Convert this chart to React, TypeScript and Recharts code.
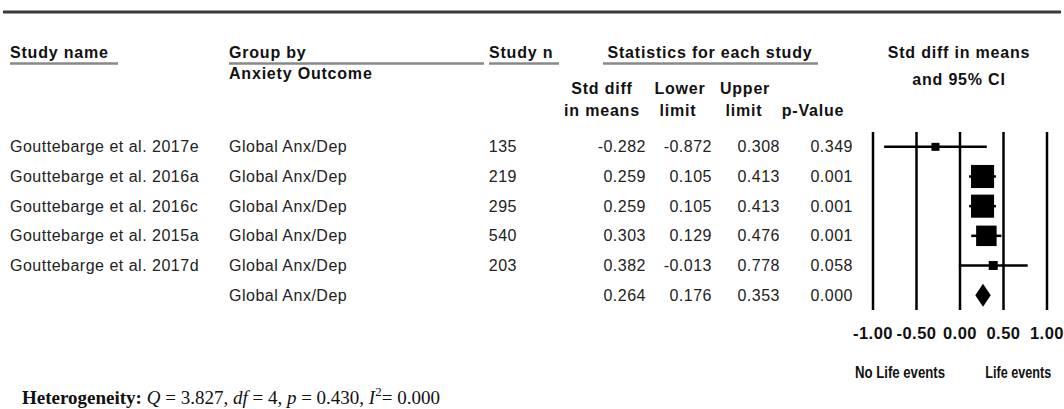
import React from 'react';
import { ScatterChart, Scatter, XAxis, YAxis, ErrorBar, ReferenceLine, ReferenceArea, Customized } from 'recharts';

// table rows (last row = summary)
const studyNames = [
  'Gouttebarge et al. 2017e',
  'Gouttebarge et al. 2016a',
  'Gouttebarge et al. 2016c',
  'Gouttebarge et al. 2015a',
  'Gouttebarge et al. 2017d',
  '',
];
const groups = ['Global Anx/Dep', 'Global Anx/Dep', 'Global Anx/Dep', 'Global Anx/Dep', 'Global Anx/Dep', 'Global Anx/Dep'];
const studyN = ['135', '219', '295', '540', '203', ''];
const effects = [-0.282, 0.259, 0.259, 0.303, 0.382, 0.264];
const lowers = [-0.872, 0.105, 0.105, 0.129, -0.013, 0.176];
const uppers = [0.308, 0.413, 0.413, 0.476, 0.778, 0.353];
const pValues = ['0.349', '0.001', '0.001', '0.001', '0.058', '0.000'];
// relative weights (%) of the individual studies
const weights = [2.3, 33.3, 33.3, 26.2, 5.0];
const xTicks = [-1, -0.5, 0, 0.5, 1];
const rowTicks = [1, 2, 3, 4, 5, 6];

const studyData = weights.map((w, i) => ({
  row: i + 1,
  effect: effects[i],
  errorX: [effects[i] - lowers[i], uppers[i] - effects[i]],
  weight: w,
}));
const summary = 5;

const SANS = '"Liberation Sans", Arial, sans-serif';
const SERIF = '"Liberation Serif", "Times New Roman", serif';

const RowTick = (props: any) => {
  const { y, payload } = props;
  const i = payload.value - 1;
  const t = { fontFamily: SANS, fontSize: 16, letterSpacing: 0.5, fill: '#222', dominantBaseline: 'central' } as any;
  return (
    <g>
      <text x={10} y={y} {...t}>{studyNames[i]}</text>
      <text x={229} y={y} {...t}>{groups[i]}</text>
      <text x={517} y={y} textAnchor="end" {...t}>{studyN[i]}</text>
      <text x={646} y={y} textAnchor="end" {...t}>{effects[i].toFixed(3)}</text>
      <text x={712} y={y} textAnchor="end" {...t}>{lowers[i].toFixed(3)}</text>
      <text x={780} y={y} textAnchor="end" {...t}>{uppers[i].toFixed(3)}</text>
      <text x={853} y={y} textAnchor="end" {...t}>{pValues[i]}</text>
    </g>
  );
};

const XTick = (props: any) => {
  const { x, payload } = props;
  return (
    <text x={x} y={333} textAnchor="middle" dominantBaseline="central"
      fontFamily={SANS} fontSize={16.5} fontWeight="bold" letterSpacing={0.5} fill="#111">
      {payload.value.toFixed(2)}
    </text>
  );
};

const SideLabels = (props: any) => {
  const { viewBox } = props;
  const y = viewBox.y + 62;
  const st = { fontFamily: '"Liberation Sans Narrow", "Liberation Sans", sans-serif', fontSize: 16, fontWeight: 'bold', fill: '#111', dominantBaseline: 'central', lengthAdjust: 'spacingAndGlyphs' } as any;
  return (
    <g>
      <text x={viewBox.x + viewBox.width * 0.155} y={y} textAnchor="middle" textLength={90} {...st}>No Life events</text>
      <text x={viewBox.x + viewBox.width * 0.835} y={y} textAnchor="middle" textLength={66} {...st}>Life events</text>
    </g>
  );
};

const WeightSquare = (props: any) => {
  const { cx, cy, payload } = props;
  const s = Math.max(8, 4 * Math.sqrt(payload.weight));
  return <rect x={cx - s / 2} y={cy - s / 2} width={s} height={s} fill="#000" />;
};

const Diamond = (props: any) => {
  const { x, y, width, height } = props;
  const cy = y + height / 2;
  const cx = x + width / 2;
  const h = 11.5;
  return <polygon points={`${x},${cy} ${cx},${cy - h} ${x + width},${cy} ${cx},${cy + h}`} fill="#000" />;
};

const Headers = () => {
  const b = { fontFamily: SANS, fontSize: 16, fontWeight: 'bold', letterSpacing: 0.8, fill: '#111', dominantBaseline: 'central' } as any;
  const ul = { stroke: '#888', strokeWidth: 2.5 };
  return (
    <g>
      <line x1={3} x2={1061} y1={12} y2={12} stroke="#3a3a3a" strokeWidth={3} />
      <text x={10} y={52} {...b}>Study name</text>
      <line x1={10} x2={118} y1={63.5} y2={63.5} {...ul} />
      <text x={229} y={52} {...b}>Group by</text>
      <line x1={229} x2={484} y1={63.5} y2={63.5} {...ul} />
      <text x={229} y={73} {...b}>Anxiety Outcome</text>
      <text x={489} y={52} {...b}>Study n</text>
      <line x1={489} x2={559} y1={63.5} y2={63.5} {...ul} />
      <text x={710} y={52} textAnchor="middle" {...b}>Statistics for each study</text>
      <line x1={603} x2={818} y1={63.5} y2={63.5} {...ul} />
      <text x={959} y={52} textAnchor="middle" {...b}>Std diff in means</text>
      <text x={959} y={79} textAnchor="middle" {...b}>and 95% CI</text>
      <text x={602} y={88} textAnchor="middle" {...b}>Std diff</text>
      <text x={602} y={110} textAnchor="middle" {...b}>in means</text>
      <text x={680} y={88} textAnchor="middle" {...b}>Lower</text>
      <text x={678} y={110} textAnchor="middle" {...b}>limit</text>
      <text x={745} y={88} textAnchor="middle" {...b}>Upper</text>
      <text x={744} y={110} textAnchor="middle" {...b}>limit</text>
      <text x={813} y={110} textAnchor="middle" {...b}>p-Value</text>
      <text x={22} y={404} fontFamily={SERIF} fontSize={19} fill="#111">
        <tspan fontWeight="bold">Heterogeneity:</tspan>
        <tspan> </tspan>
        <tspan fontStyle="italic">Q</tspan>
        <tspan> = 3.827, </tspan>
        <tspan fontStyle="italic">df</tspan>
        <tspan> = 4, </tspan>
        <tspan fontStyle="italic">p</tspan>
        <tspan> = 0.430, </tspan>
        <tspan fontStyle="italic">I</tspan>
        <tspan fontSize={13} dy={-8}>2</tspan>
        <tspan dy={8}>= 0.000</tspan>
      </text>
    </g>
  );
};

export default function App() {
  return (
    <div style={{ position: 'absolute', left: 0, top: 0, width: 1064, height: 409, background: '#fff' }}>
      <ScatterChart width={1064} height={409} margin={{ top: 132, right: 17, bottom: 39, left: 0 }}>
        <XAxis
          type="number"
          dataKey="effect"
          domain={[-1, 1]}
          ticks={xTicks}
          axisLine={false}
          tickLine={false}
          height={60}
          tick={<XTick />}
          label={<SideLabels />}
        />
        <YAxis
          type="number"
          dataKey="row"
          domain={[0.5, 6.5]}
          ticks={rowTicks}
          reversed
          width={873}
          axisLine={false}
          tickLine={false}
          tick={<RowTick />}
        />
        {xTicks.map((t) => (
          <ReferenceLine key={t} x={t} stroke="#000" strokeWidth={2.5} />
        ))}
        <ReferenceArea
          x1={lowers[summary]}
          x2={uppers[summary]}
          y1={5.5}
          y2={6.5}
          shape={<Diamond />}
        />
        <Scatter data={studyData} shape={<WeightSquare />} isAnimationActive={false}>
          <ErrorBar dataKey="errorX" direction="x" width={0} stroke="#000" strokeWidth={2.5} />
        </Scatter>
        <Customized component={<Headers />} />
      </ScatterChart>
    </div>
  );
}
